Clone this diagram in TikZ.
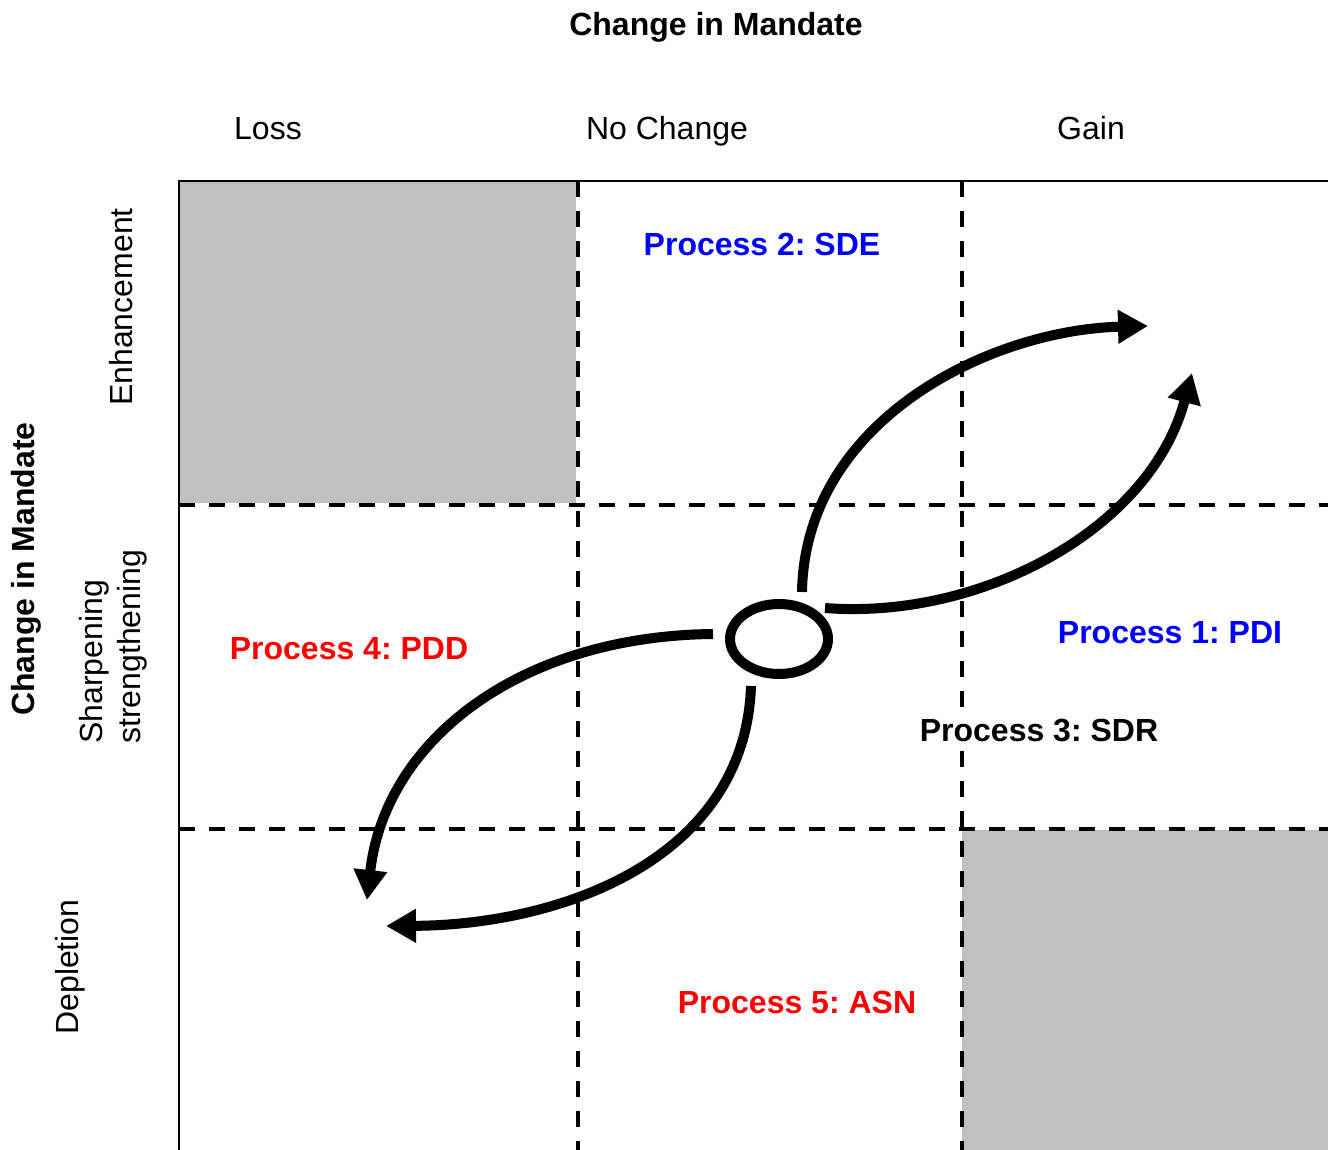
\documentclass[tikz,border=0pt]{standalone}
\usepackage{fontspec}
\setmainfont{Liberation Sans}
\usetikzlibrary{arrows.meta,shapes.geometric}
\definecolor{boxgray}{RGB}{192,192,192}
\definecolor{pblue}{RGB}{0,0,255}
\definecolor{pred}{RGB}{255,0,0}
\tikzset{
  lbl/.style={font=\fontsize{32}{38}\selectfont, inner sep=0pt},
  blbl/.style={font=\fontsize{32}{38}\selectfont\bfseries, inner sep=0pt},
  grid/.style={line width=4pt, dash pattern=on 16pt off 14pt},
  frame/.style={line width=2.5pt},
  flow/.style={line width=10pt, -{Triangle[length=30pt,width=32pt]}},
}
\begin{document}
\frenchspacing
\begin{tikzpicture}[x=1pt,y=-1pt]
\useasboundingbox (0,0) rectangle (1328,1150);
% gray cells
\fill[boxgray] (179,181) rectangle (576,503);
\fill[boxgray] (962,830) rectangle (1328,1150);
% dashed grid
\draw[grid] (577.5,181) -- (577.5,1150);
\draw[grid] (962,181) -- (962,1150);
\draw[grid] (179,504.5) -- (1328,504.5);
\draw[grid] (179,829) -- (1328,829);
% frame
\draw[frame] (1328,181) -- (179,181) -- (179,1150);
% titles
\node[blbl, anchor=base] (topt) at (716,36) {Change in Mandate};
\node[blbl, rotate=90] (leftt) at (26,569) {Change in Mandate};
\node[lbl, anchor=base] (loss) at (268,140) {Loss};
\node[lbl, anchor=base] (noch) at (667,140) {No Change};
\node[lbl, anchor=base] (gain) at (1091,140) {Gain};
\node[lbl, rotate=90] (enh) at (121,307) {Enhancement};
\node[lbl, rotate=90, align=left, anchor=west] (sharp) at (113,744) {Sharpening\\strengthening};
\node[lbl, rotate=90] (depl) at (70,967) {Depletion};
% process labels
\node[blbl, text=pblue] (p2) at (762,244) {Process 2: SDE};
\node[blbl, text=pblue] (p1) at (1170,633) {Process 1: PDI};
\node[blbl, fill=white, inner xsep=2pt, inner ysep=6pt] (p3) at (1039,731) {Process 3: SDR};
\node[blbl, text=pred] (p4) at (349,649) {Process 4: PDD};
\node[blbl, text=pred] (p5) at (797,1002) {Process 5: ASN};
% hub
\node[ellipse, draw, line width=10pt, minimum width=98pt, minimum height=70pt, inner sep=0pt] (hub) at (779,639) {};
% curve end points
\coordinate (s1) at (802,592);
\coordinate (t1) at (1148,326);
\coordinate (s2) at (825,608);
\coordinate (t2) at (1192,373);
\coordinate (s3) at (713,634);
\coordinate (t3) at (367,900);
\coordinate (s4) at (751,686);
\coordinate (t4) at (386,926);
\draw[flow] (s1) .. controls (805,420) and (990,330) .. (t1);
\draw[flow] (s2) .. controls (980,620) and (1150,530) .. (t2);
\draw[flow] (s3) .. controls (520,636) and (385,740) .. (t3);
\draw[flow] (s4) .. controls (745,860) and (560,925) .. (t4);
\end{tikzpicture}
\end{document}
